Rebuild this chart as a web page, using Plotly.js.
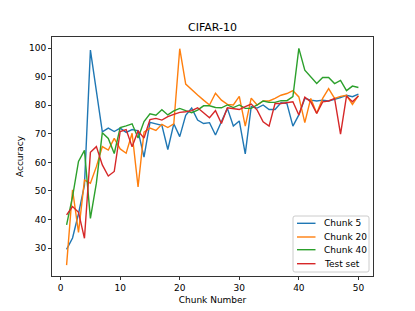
<!DOCTYPE html>
<html>
<head>
<meta charset="utf-8">
<script src="https://cdn.plot.ly/plotly-3.0.1.min.js"></script>
<style>html,body{margin:0;padding:0;background:#fff;}#chart{width:415px;height:311px;}</style>
</head>
<body>
<div id="chart"></div>
<script>
const chunks = Array.from({length: 50}, (_, i) => i + 1);
const chunk5 = [29.5,33.5,42,52,99.3,85,70.7,72,70.8,72,70.5,71.5,71,61.8,74,73.5,73,64.5,73.5,69,
  76.5,79,74.8,73.6,73.9,69.6,74.2,78.9,72.7,74.5,63,79.5,79,80.1,78.5,78.5,80.9,80.6,72.7,76.6,
  82.4,81.8,81.5,81.8,81.5,82,82.7,83.5,83,83.9];
const chunk20 = [24,50.4,35.5,53.8,52.7,58.5,65.5,64.3,68.4,64.7,63.2,70.2,51.4,70.6,72,71.2,73.3,72.2,73.5,99.8,
  87.4,85.4,83.6,81.8,80.1,84.2,81.8,80.3,80.1,83.1,72.7,82.5,80.1,81.5,81.5,82.4,83.5,84.1,85.1,82.9,
  73.9,82.4,77.2,82.4,85.8,82.4,83.1,83.5,80.3,83.4];
const chunk40 = [38.1,48,60.3,64.2,40.4,52.7,70.4,68.4,63.1,72.2,72.8,73.5,68.5,74.3,77,76.5,78.4,76.6,78,78.9,
  78.1,77.4,78.3,79.8,79.8,79.2,79.1,80.1,79.2,80.1,78.9,78.9,80.1,81.5,81,81,81.6,81.6,83,99.9,
  92.3,90,87.6,89.7,89.7,87.6,88.7,85.1,86.7,86.2];
const testSet = [41.6,44.5,42.5,33.4,63.5,65.5,59.1,55.2,56.8,70.8,71.5,65.5,71,68.5,75,75.4,74.8,76,76.8,77.5,
  77.7,78.1,79.1,77.4,75.6,78.1,73.6,79.1,78.9,78.5,79.5,80.4,78.3,74.2,72.7,80.6,80.6,80.9,81.2,76.6,
  82.8,81.2,77.1,81.2,81.5,82.4,69.9,83.2,81.2,83.2];
const seriesNames = ["Chunk 5", "Chunk 20", "Chunk 40", "Test set"];
const seriesColors = ["#1f77b4", "#ff7f0e", "#2ca02c", "#d62728"];
const seriesValues = [chunk5, chunk20, chunk40, testSet];
const xTicks = [0, 10, 20, 30, 40, 50];
const yTicks = [30, 40, 50, 60, 70, 80, 90, 100];

const W = 415, H = 311;
const M = {l: 52, r: 42, t: 37, b: 35};
const pw = W - M.l - M.r, ph = H - M.t - M.b;
const px = x => (x - M.l) / pw;          // pixel -> paper x
const py = y => (H - M.b - y) / ph;      // pixel -> paper y

const font = {family: "DejaVu Sans, sans-serif", size: 9, color: "#000"};
const traces = seriesValues.map((v, k) => ({
  x: chunks, y: v, type: "scatter", mode: "lines", name: seriesNames[k],
  line: {color: seriesColors[k], width: 1.4}, showlegend: false
}));

// Matplotlib-style legend box (lower right)
const box = {x0: 293, x1: 369, y0: 216, y1: 272, r: 2};
const shapes = [];
const annotations = [];
const rr = box.r;
const pathStr = [
  `M${px(box.x0 + rr)},${py(box.y0)}`,
  `L${px(box.x1 - rr)},${py(box.y0)}`,
  `Q${px(box.x1)},${py(box.y0)} ${px(box.x1)},${py(box.y0 + rr)}`,
  `L${px(box.x1)},${py(box.y1 - rr)}`,
  `Q${px(box.x1)},${py(box.y1)} ${px(box.x1 - rr)},${py(box.y1)}`,
  `L${px(box.x0 + rr)},${py(box.y1)}`,
  `Q${px(box.x0)},${py(box.y1)} ${px(box.x0)},${py(box.y1 - rr)}`,
  `L${px(box.x0)},${py(box.y0 + rr)}`,
  `Q${px(box.x0)},${py(box.y0)} ${px(box.x0 + rr)},${py(box.y0)} Z`
].join(" ");
shapes.push({type: "path", xref: "paper", yref: "paper", path: pathStr,
  fillcolor: "rgba(255,255,255,0.8)", line: {color: "#cccccc", width: 1}, layer: "above"});
const rowY = [223.3, 237, 249.7, 263.7];
seriesNames.forEach((name, k) => {
  shapes.push({type: "line", xref: "paper", yref: "paper",
    x0: px(297), x1: px(315.5), y0: py(rowY[k]), y1: py(rowY[k]),
    line: {color: seriesColors[k], width: 1.4}, layer: "above"});
  annotations.push({xref: "paper", yref: "paper", x: px(322), y: py(rowY[k]),
    xanchor: "left", yanchor: "middle", text: name, showarrow: false, font: font});
});

const axisCommon = {
  showgrid: false, zeroline: false, showline: true, linecolor: "#000", linewidth: 0.8,
  mirror: true, ticks: "outside", ticklen: 3.2, tickwidth: 0.8, tickcolor: "#000",
  tickfont: font
};

const layout = {
  width: W, height: H,
  margin: M,
  paper_bgcolor: "#fff", plot_bgcolor: "#fff",
  font: font,
  title: {text: "CIFAR-10", font: {family: "DejaVu Sans, sans-serif", size: 11, color: "#000"},
    x: 0.512, xanchor: "center", y: 0.913, yanchor: "middle"},
  xaxis: Object.assign({}, axisCommon, {range: [-1.45, 52.45], tickvals: xTicks,
    title: {text: "Chunk Number", font: font, standoff: 4}}),
  yaxis: Object.assign({}, axisCommon, {range: [20.2, 103.9], tickvals: yTicks,
    title: {text: "Accuracy", font: font, standoff: 3}}),
  showlegend: false,
  shapes: shapes,
  annotations: annotations
};

Plotly.newPlot("chart", traces, layout, {displayModeBar: false, staticPlot: true});
</script>
</body>
</html>
